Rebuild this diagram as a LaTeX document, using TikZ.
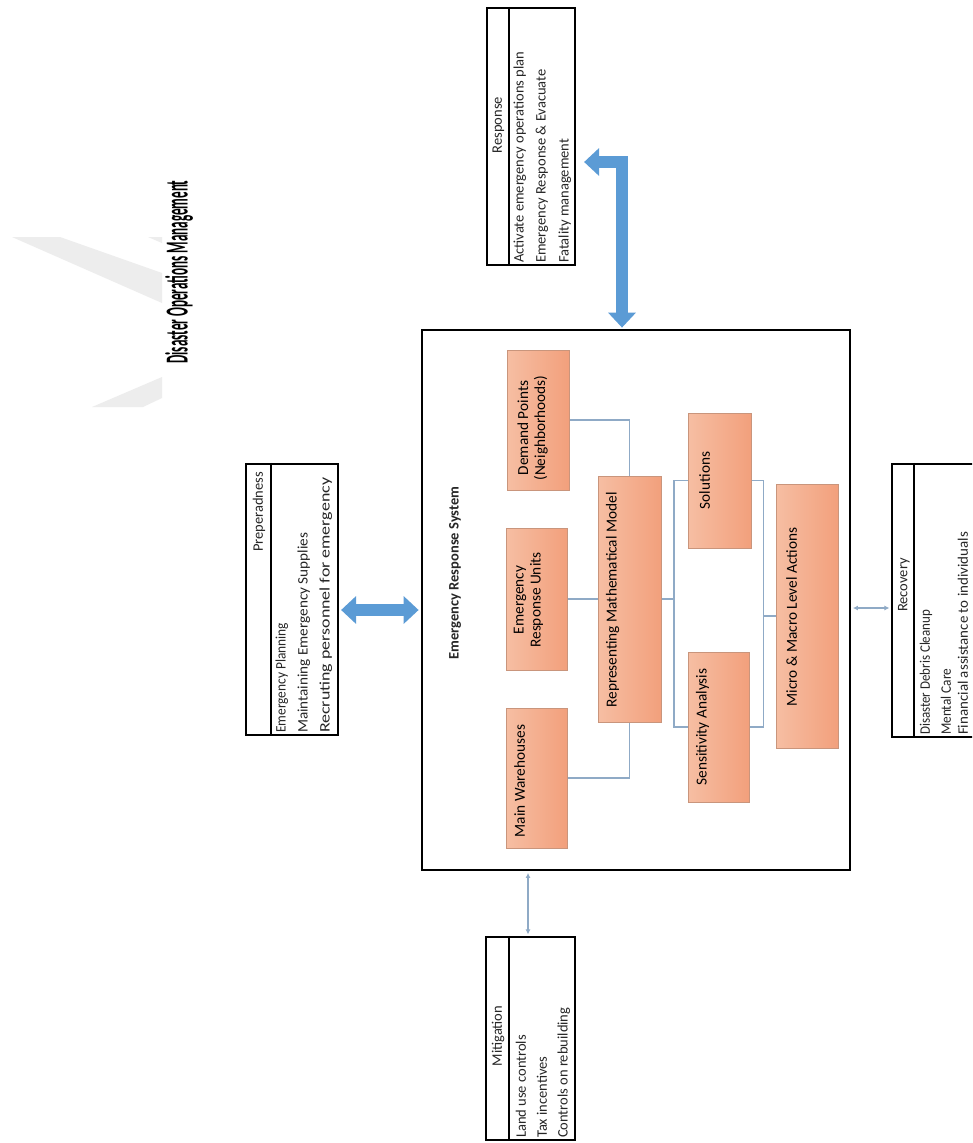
\documentclass[tikz,border=0pt]{standalone}
\usepackage{fontspec}
\setmainfont{Carlito}
\usetikzlibrary{arrows.meta,calc}
\definecolor{arrowblue}{HTML}{5B9BD5}
\definecolor{connblue}{HTML}{8FAAC6}
\definecolor{boxL}{HTML}{F6BEA3}
\definecolor{boxR}{HTML}{F2A07C}
\definecolor{boxline}{HTML}{C9957C}
\definecolor{wmgray}{HTML}{EDEDED}
\newcommand\tsz{\fontsize{14.5}{17}\selectfont}
\newcommand\bsz{\fontsize{15.3}{17}\selectfont}
\newcommand\fitlen[2]{\resizebox{#1pt}{\height}{#2}}
\begin{document}
\begin{tikzpicture}[x=1pt,y=-1pt,
 tbl/.style={draw=black, line width=2.2pt, rectangle, inner sep=0pt, fill=white},
 ersbox/.style={draw=black, line width=2.8pt, rectangle, inner sep=0pt, fill=white},
 obox/.style={draw=boxline, line width=1pt, rectangle, inner sep=0pt, left color=boxL, right color=boxR},
 ttxt/.style={rotate=90, anchor=west, inner sep=0pt, font=\tsz, text=black!85},
 thead/.style={rotate=90, inner sep=0pt, font=\tsz, text=black!85},
 btxt/.style={rotate=90, inner sep=0pt, font=\bsz, text=black, align=center},
 divider/.style={draw=black, line width=1.8pt},
 conn/.style={draw=connblue, line width=1.3pt},
 smallarrow/.style={draw=connblue, line width=1.2pt, {Latex[length=5pt,width=5pt]}-{Latex[length=5pt,width=5pt]}},
 bigarrow/.style={draw=arrowblue, line width=12pt, line join=miter, {Triangle[width=27pt,length=15pt]}-{Triangle[width=27pt,length=15pt]}}]
\useasboundingbox (0,0) rectangle (972,1143);
\fill[white] (0,0) rectangle (972,1143);
\clip (0,0) rectangle (972,1143);

% watermark
\fill[wmgray] (12,237) -- (60,237) -- (162,273) -- (162,303) -- cycle;
\fill[wmgray] (148,237) -- (162,237) -- (162,243) -- cycle;
\fill[wmgray] (92,407) -- (143,407) -- (162,398) -- (162,377) -- cycle;

% title
\node[rotate=90, inner sep=0pt] (title) at (179,272)
  {\resizebox{183pt}{\height}{\fontsize{32}{36}\selectfont\bfseries Disaster Operations Management}};

% tables
\node[tbl, minimum width=88pt, minimum height=257pt] (resp) at (531,136.5) {};
\node[tbl, minimum width=92pt, minimum height=271pt] (prep) at (292,599.5) {};
\node[tbl, minimum width=89pt, minimum height=203pt] (mit) at (530.5,1038.5) {};
\node[tbl, minimum width=93pt, minimum height=273pt] (rec) at (938.5,600.5) {};

\draw[divider] ($(resp.north west)+(23,0)$) -- ($(resp.south west)+(23,0)$);
\draw[divider] ($(prep.north west)+(26,0)$) -- ($(prep.south west)+(26,0)$);
\draw[divider] ($(mit.north west)+(24,0)$) -- ($(mit.south west)+(24,0)$);
\draw[divider] ($(rec.north west)+(23,0)$) -- ($(rec.south west)+(23,0)$);

\node[thead] (resph) at (498.5,125) {Response};
\node[ttxt] (resp1) at ($(resp.south west)+(34,-3)$) {Activate emergency operations plan};
\node[ttxt] (resp2) at ($(resp.south west)+(56,-3)$) {Emergency Response \& Evacuate};
\node[ttxt] (resp3) at ($(resp.south west)+(79,-3)$) {Fatality management};

\node[thead] (preph) at (259,512) {Preperadness};
\node[ttxt] (prep1) at ($(prep.south west)+(37,-3)$) {\fitlen{110}{Emergency Planning}};
\node[ttxt] (prep2) at ($(prep.south west)+(59,-3)$) {\fitlen{200}{Maintaining Emergency Supplies}};
\node[ttxt] (prep3) at ($(prep.south west)+(81,-3)$) {\fitlen{255}{Recruting personnel for emergency}};

\node[thead] (mith) at (498,1036) {Mitigation};
\node[ttxt] (mit1) at ($(mit.south west)+(36,-3)$) {Land use controls};
\node[ttxt] (mit2) at ($(mit.south west)+(57,-3)$) {Tax incentives};
\node[ttxt] (mit3) at ($(mit.south west)+(79,-3)$) {Controls on rebuilding};

\node[thead] (rech) at (904,585) {Recovery};
\node[ttxt] (rec1) at ($(rec.south west)+(35,-3)$) {\fitlen{125}{Disaster Debris Cleanup}};
\node[ttxt] (rec2) at ($(rec.south west)+(55,-3)$) {\fitlen{66}{Mental Care}};
\node[ttxt] (rec3) at ($(rec.south west)+(72,-3)$) {\fitlen{203}{Financial assistance to individuals}};

% main system box
\node[ersbox, minimum width=428pt, minimum height=540pt] (ers) at (636,600) {};
\node[rotate=90, inner sep=0pt, font=\fontsize{14.5}{17}\selectfont\bfseries, text=black!85] (erslabel) at (455,573) {Emergency Response System};

% orange boxes
\node[obox, minimum width=62pt, minimum height=140pt] (dp) at (538,420) {};
\node[obox, minimum width=61pt, minimum height=142pt] (eru) at (536.5,599) {};
\node[obox, minimum width=61pt, minimum height=140pt] (mw) at (536.5,778) {};
\node[obox, minimum width=63pt, minimum height=246pt] (rmm) at (629.5,599) {};
\node[obox, minimum width=63pt, minimum height=135pt] (sol) at (719.5,480.5) {};
\node[obox, minimum width=61pt, minimum height=150pt] (sa) at (718.5,727) {};
\node[obox, minimum width=62pt, minimum height=264pt] (mmla) at (807,616) {};

\node[btxt] (dpt) at ($(dp.west)+(26,8)$) {Demand Points\\(Neighborhoods)};
\node[btxt] (erut) at ($(eru.west)+(23,1)$) {Emergency\\Response Units};
\node[btxt] (mwt) at ($(mw.west)+(14,3)$) {Main Warehouses};
\node[btxt] (rmmt) at ($(rmm.west)+(15,1)$) {Representing Mathematical Model};
\node[btxt] (solt) at ($(sol.west)+(17,0)$) {Solutions};
\node[btxt] (sat) at ($(sa.west)+(15,0)$) {Sensitivity Analysis};
\node[btxt] (mmlat) at ($(mmla.west)+(16,1)$) {Micro \& Macro Level Actions};

% inner connectors
\draw[conn] (dp.east) -| (rmm.north);
\draw[conn] (eru.east) -- (rmm.west);
\draw[conn] (mw.east) -| (rmm.south);
\draw[conn] (rmm.east) -- ++(12.5,0) coordinate (b1);
\draw[conn] (sol.west) -| (b1) |- (sa.west);
\draw[conn] (sol.east) -- ++(12,0) coordinate (b2) -- (b2 |- sa.east) -- (sa.east);
\draw[conn] (b2 |- mmla.west) -- (mmla.west);

% outer connectors
\coordinate (mx) at (528,0);
\coordinate (ry) at (0,608);
\coordinate (py) at (0,610);
\coordinate (ay) at (0,162);
\coordinate (ax) at (622,0);
\draw[smallarrow] ([yshift=-1.5pt]ers.south -| mx) -- ([yshift=1.5pt]mit.north -| mx);
\draw[smallarrow] ([xshift=1.5pt]ers.east |- ry) -- ([xshift=-1.5pt]rec.west |- ry);
\draw[bigarrow] ([xshift=2pt]prep.east |- py) -- ([xshift=-2pt]ers.west |- py);
\draw[bigarrow] ([xshift=8pt]resp.east |- ay) -| ([yshift=1pt]ers.north -| ax);
\end{tikzpicture}
\end{document}
